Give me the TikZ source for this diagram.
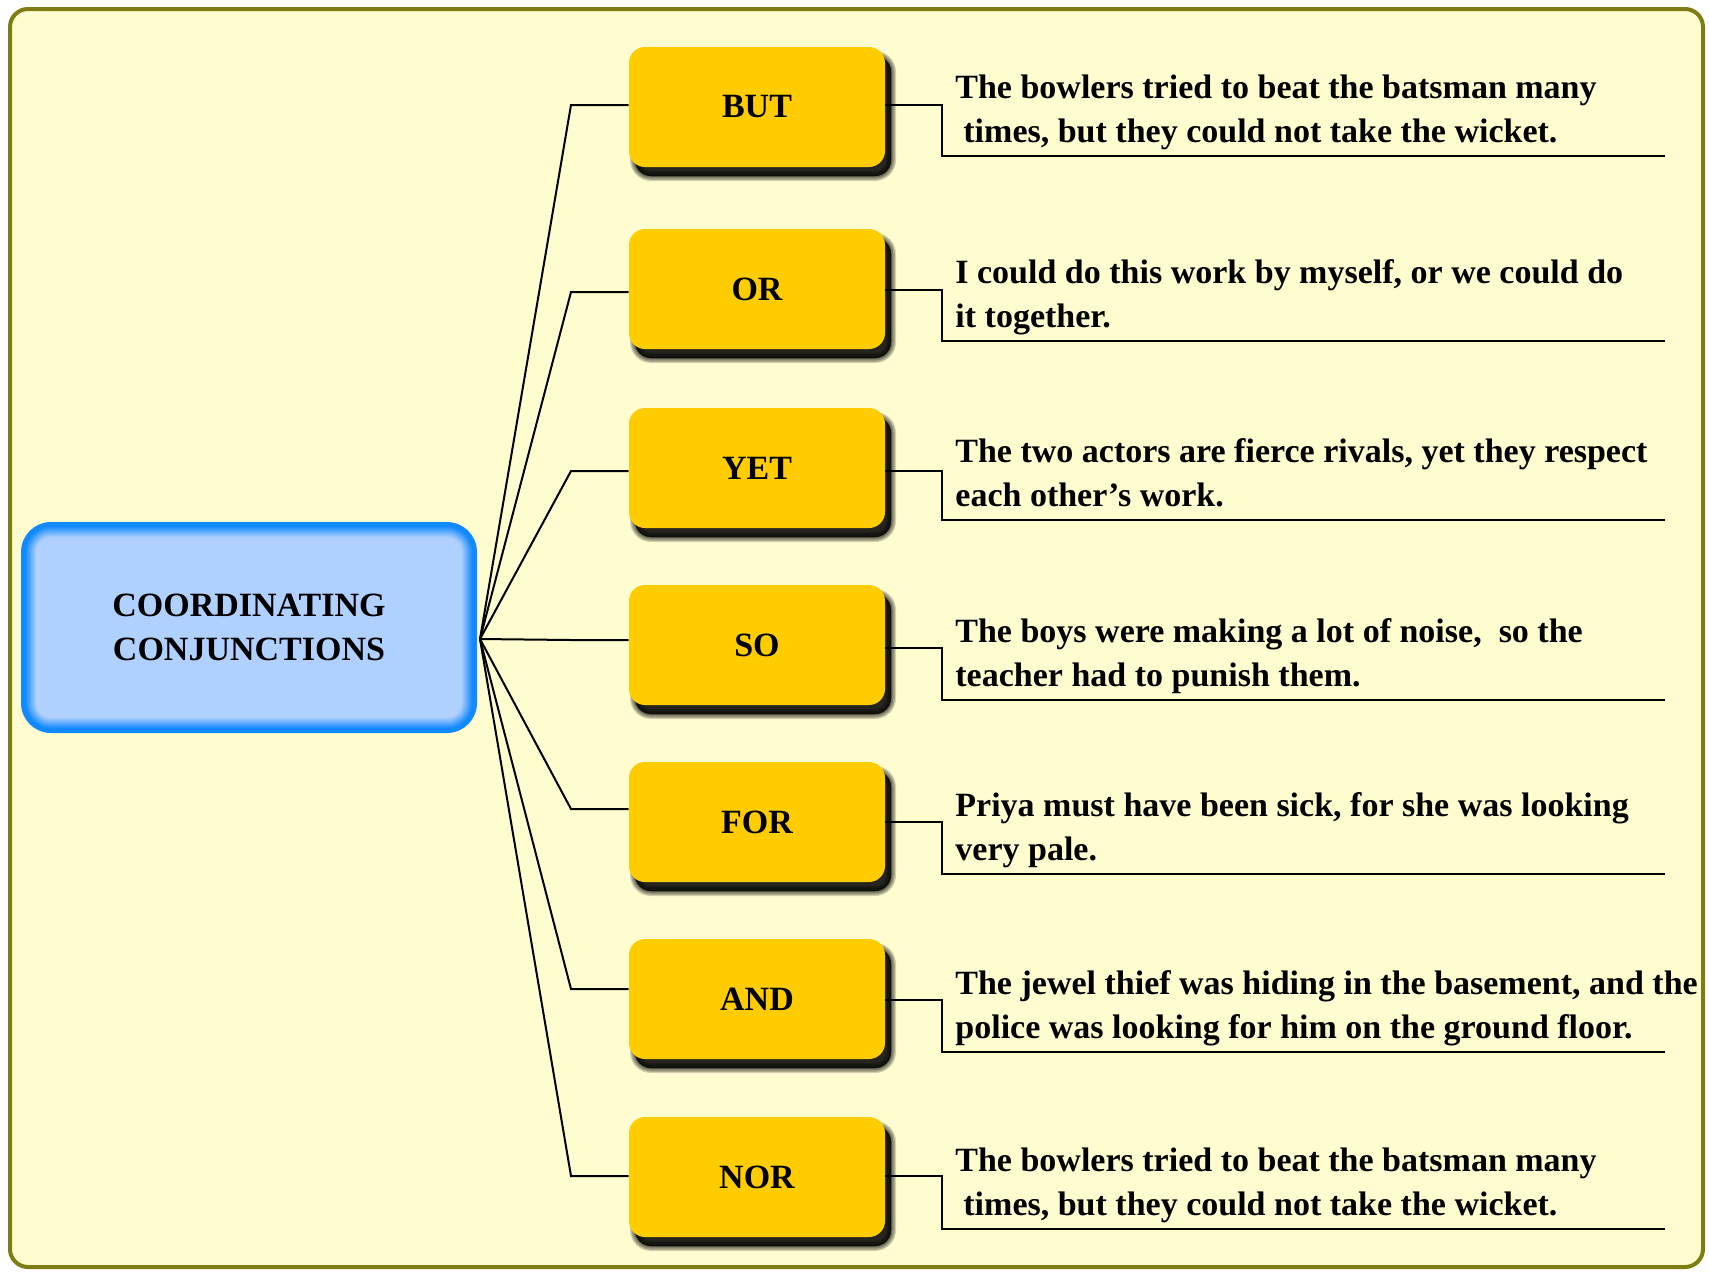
\documentclass[tikz,border=0pt]{standalone}
\usepackage{fontspec}
\setmainfont{Liberation Serif}
\definecolor{cream}{RGB}{255,253,208}
\definecolor{olivec}{RGB}{125,125,20}
\definecolor{yel}{RGB}{255,204,0}
\definecolor{bluedark}{RGB}{18,138,255}
\definecolor{bluelight}{RGB}{176,208,255}
\begin{document}
\begin{tikzpicture}[x=0.5pt,y=-0.5pt,
  txt/.style={font=\fontsize{17}{22}\selectfont\bfseries},
  shd/.style={preaction={fill=black, draw=black, line width=#1, opacity=0.18, transform canvas={xshift=3pt,yshift=-4.5pt}}},
  ybox/.style={txt, fill=yel, rounded corners=8pt, minimum width=128pt, minimum height=60pt, inner sep=0pt,
    shd=5pt, shd=3.8pt, shd=2.6pt, shd=1.4pt, shd=0.5pt,
    preaction={fill=black, opacity=0.6, transform canvas={xshift=3pt,yshift=-4.5pt}}},
  sent/.style={txt, anchor=south west, inner sep=0pt, align=left},
  lconn/.style={line width=1pt, black},
  rconn/.style={line width=1.2pt, black}]
\useasboundingbox (0,0) rectangle (1709,1271);
\fill[white] (0,0) rectangle (1709,1271);
\draw[olivec, line width=2pt, fill=cream, rounded corners=9pt] (10,9) rectangle (1703,1267);

% central glowing box
\foreach \i in {0,...,16}{
  \pgfmathsetmacro\ins{\i*1.0}
  \pgfmathsetmacro\rc{max(15-\ins/2,4)}
  \pgfmathtruncatemacro\mix{min(100,max(0,100-(\i-4)*9))}
  \fill[bluedark!\mix!bluelight, rounded corners=\rc pt] (21+\ins,522+\ins) rectangle (477-\ins,733-\ins);
}
\node[txt, align=center, minimum width=227pt, minimum height=104.5pt] (c) at (249,627.5) {COORDINATING\\CONJUNCTIONS};
\coordinate (hub) at (480,639);

% conjunction boxes
\node[ybox] (k1) at (757,107) {BUT};
\node[ybox] (k2) at (757,289) {OR};
\node[ybox] (k3) at (757,468) {YET};
\node[ybox] (k4) at (757,645) {SO};
\node[ybox] (k5) at (757,822) {FOR};
\node[ybox] (k6) at (757,999) {AND};
\node[ybox] (k7) at (757,1177) {NOR};

% left connectors
\foreach \i/\ly in {1/105,2/292,3/471,4/640,5/809,6/989,7/1176}
  \draw[lconn] (hub) -- (571,\ly) -- (k\i.west |- 0,\ly);

% right connectors with underlines
\foreach \i/\ry/\ul in {1/105/156,2/290/341,3/471/520,4/648/700,5/822/874,6/1000/1052,7/1176/1229}{
  \coordinate (u\i) at (1665,\ul);
  \draw[rconn] (k\i.east |- 0,\ry) -- (942,\ry) -- (942,\ul) -- (u\i);
}

% sentences
\node[sent] (t1) at (955,156) {\strut The bowlers tried to beat the batsman many\\\strut\hspace*{4pt}times, but they could not take the wicket.};
\node[sent] (t2) at (955,341) {\strut I could do this work by myself, or we could do\\\strut it together.};
\node[sent] (t3) at (955,520) {\strut The two actors are fierce rivals, yet they respect\\\strut each other's work.};
\node[sent] (t4) at (955,700) {\strut The boys were making a lot of noise,\ \ so the\\\strut teacher had to punish them.};
\node[sent] (t5) at (955,874) {\strut Priya must have been sick, for she was looking\\\strut very pale.};
\node[sent] (t6) at (955,1052) {\strut The jewel thief was hiding in the basement, and the\\\strut police was looking for him on the ground floor.};
\node[sent] (t7) at (955,1229) {\strut The bowlers tried to beat the batsman many\\\strut\hspace*{4pt}times, but they could not take the wicket.};
\end{tikzpicture}
\end{document}
